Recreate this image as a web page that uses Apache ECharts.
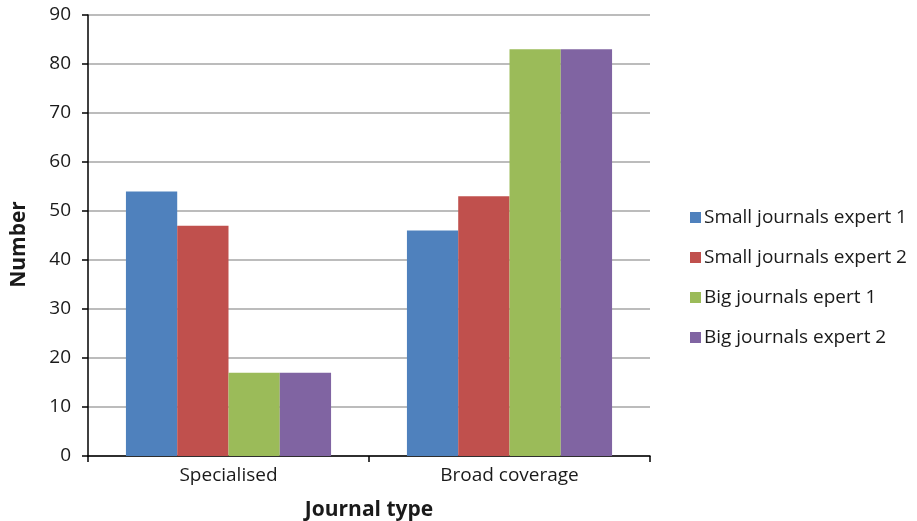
<!DOCTYPE html>
<html><head><meta charset="utf-8">
<script src="https://cdn.jsdelivr.net/npm/echarts@6/dist/echarts.min.js"></script>
<style>html,body{margin:0;padding:0;background:#fff}#c{width:917px;height:521px}</style>
</head><body><div id="c"></div>
<script>
const categories = ['Specialised', 'Broad coverage'];
const seriesNames = ['Small journals expert 1', 'Small journals expert 2', 'Big journals epert 1', 'Big journals expert 2'];
const smallExpert1 = [54, 46];
const smallExpert2 = [47, 53];
const bigExpert1 = [17, 83];
const bigExpert2 = [17, 83];
const colors = ['#4F81BD', '#C0504D', '#9BBB59', '#8064A2'];
const values = [smallExpert1, smallExpert2, bigExpert1, bigExpert2];
const font = '"Open Sans", "DejaVu Sans", sans-serif';
const chart = echarts.init(document.getElementById('c'));
chart.setOption({
  animation: false,
  textStyle: {fontFamily: font},
  grid: {left: 88, right: 267, top: 15, bottom: 65, containLabel: false, outerBoundsMode: 'none'},
  legend: {
    orient: 'vertical', left: 685, top: 203, itemGap: 21,
    itemWidth: 11, itemHeight: 11, icon: 'rect',
    textStyle: {fontSize: 19, color: '#1a1a1a', fontFamily: font, padding: [0,0,0,-2]},
    data: seriesNames
  },
  xAxis: {
    type: 'category', data: categories,
    name: 'Journal type', nameLocation: 'middle', nameGap: 44,
    nameTextStyle: {fontSize: 21, fontWeight: 'bold', color: '#1a1a1a', fontFamily: font},
    axisLine: {lineStyle: {color: '#000', width: 1.5}},
    axisTick: {show: true, length: 6, lineStyle: {color: '#000', width: 1.5}, alignWithLabel: false},
    axisLabel: {fontSize: 19, color: '#1a1a1a', margin: 10}
  },
  yAxis: {
    type: 'value', min: 0, max: 90, interval: 10,
    name: 'Number', nameLocation: 'middle', nameGap: 58, nameRotate: 90,
    nameTextStyle: {fontSize: 21, fontWeight: 'bold', color: '#1a1a1a', fontFamily: font, padding: [0, 18, 0, 0]},
    axisLine: {show: true, lineStyle: {color: '#000', width: 1.5}},
    axisTick: {show: true, length: 6, lineStyle: {color: '#000', width: 1.5}},
    axisLabel: {fontSize: 19, color: '#1a1a1a', margin: 17},
    splitLine: {lineStyle: {color: '#a6a6a6', width: 1.5}}
  },
  series: values.map((v, i) => ({
    name: seriesNames[i], type: 'bar', data: v,
    barGap: '0%', barCategoryGap: '27%',
    itemStyle: {color: colors[i]}
  }))
});
</script></body></html>
